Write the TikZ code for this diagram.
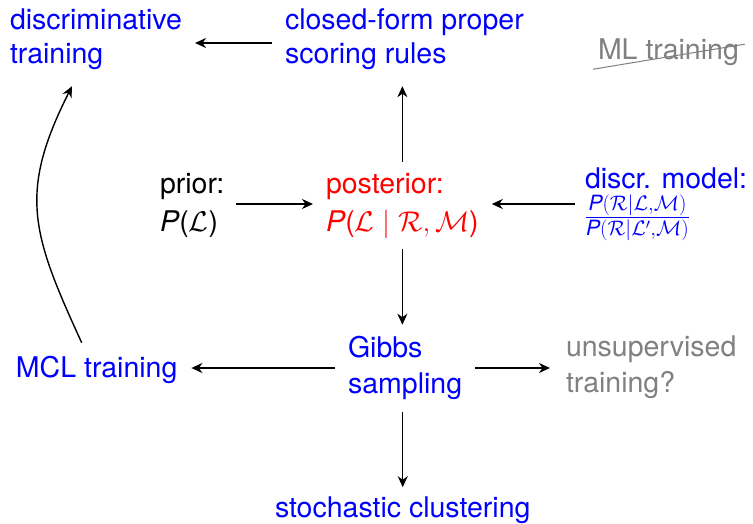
\RequirePackage{fix-cm}
\documentclass[tikz,border=0pt]{standalone}
\usepackage{amsmath}
\usepackage{fontspec}
\setmainfont{TeX Gyre Heros}
\usetikzlibrary{arrows.meta}

\definecolor{labblue}{RGB}{0,0,255}
\definecolor{labred}{RGB}{255,0,0}
\definecolor{labgray}{RGB}{128,128,128}

% sans italic P used in the probability expressions
\newcommand\vP{\textit{P}}

\begin{document}
\begin{tikzpicture}[x=1pt,y=-1pt,
  every node/.style={inner sep=0pt, outer sep=0pt, align=left, anchor=base west,
    font=\fontsize{28.5}{34}\selectfont},
  arr/.style={-{Stealth[length=11pt,width=10pt,inset=3.5pt]}, line width=1.4pt},
  lab/.style={text=labblue},
  muted/.style={text=labgray}]
\useasboundingbox (0,0) rectangle (753,524);

% labels (each placed at the baseline of its last line)
\node[lab] (disc) at (10,64) {discriminative\\training};
\node[lab] (closed) at (285,64) {closed-form proper\\scoring rules};
\node[muted] (ml) at (598,60) {ML training};
\node (prior) at (160,231) {prior:\\[4pt]\vP($\mathcal{L}$)};
\node[text=labred] (post) at (326,231) {posterior:\\[4pt]\vP($\mathcal{L}\mid\mathcal{R},\mathcal{M}$)};
\node[lab] (discr) at (585,225) {discr. model:\\[2pt]{\fontsize{30}{34}\selectfont$\frac{\vP(\mathcal{R}|\mathcal{L},\mathcal{M})}{\vP(\mathcal{R}|\mathcal{L}',\mathcal{M})}$}};
\node[lab] (mcl) at (16,377) {MCL training};
\node[lab] (gibbs) at (348,393) {Gibbs\\[2pt]sampling};
\node[muted] (unsup) at (566,392) {unsupervised\\[2pt]training?};
\node[lab] (stoch) at (275,517) {stochastic clustering};

% row levels of the horizontal connectors
\coordinate (rowA) at (0,43);
\coordinate (rowB) at (0,204);
\coordinate (rowC) at (0,368);

% struck-out label
\draw[labgray, line width=1pt] ([shift={(-5,3)}]ml.south west) -- ([shift={(6,5)}]ml.north east);

% connectors
\draw[arr, shorten <=13pt, shorten >=13pt] (closed.west |- rowA) -- (disc.east |- rowA);
\draw[arr, shorten <=11pt, shorten >=16pt] (post.north) -- (post.north |- closed.south);
\draw[arr, shorten <=12pt, shorten >=13pt] (prior.east |- rowB) -- (post.west |- rowB);
\draw[arr, shorten <=10pt, shorten >=13pt] (discr.west |- rowB) -- (post.east |- rowB);
\draw[arr, shorten <=11pt, shorten >=11pt] (post.south) -- (post.south |- gibbs.north);
\draw[arr, shorten <=13pt, shorten >=14pt] (gibbs.west |- rowC) -- (mcl.east |- rowC);
\draw[arr, shorten <=13pt, shorten >=16pt] (gibbs.east |- rowC) -- (unsup.west |- rowC);
\draw[arr, shorten <=13pt, shorten >=9pt] (stoch.north |- gibbs.south) -- (stoch.north);
\draw[arr] ([shift={(-15,-13)}]mcl.north) .. controls +(-50,-109) and +(-54,107) .. ([shift={(-24,16)}]disc.south);
\end{tikzpicture}
\end{document}
